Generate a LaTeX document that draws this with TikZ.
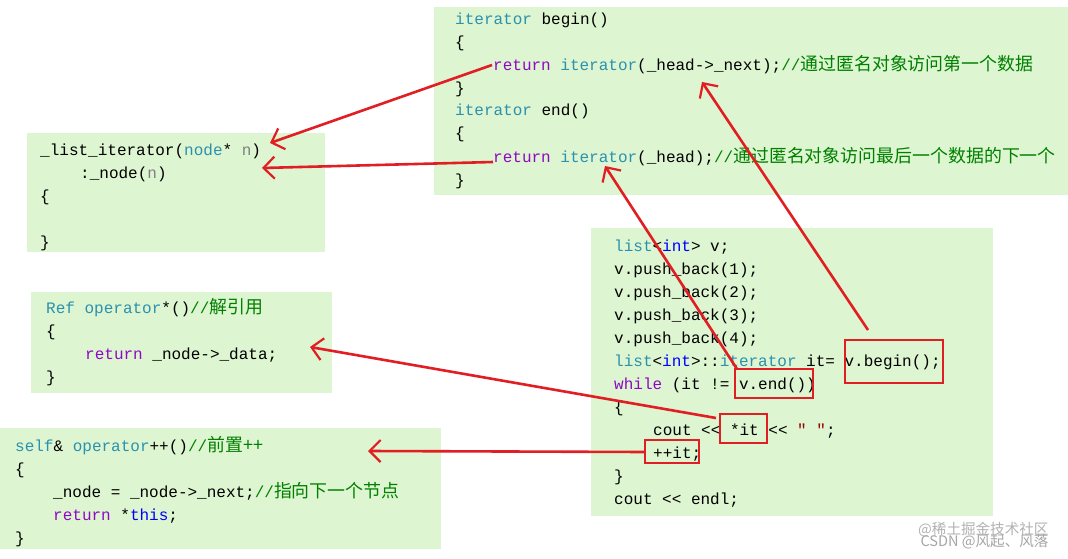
\documentclass[tikz,border=0pt]{standalone}
\usepackage{fontspec}
\setmonofont{Liberation Mono}
\newfontfamily\cjk{Noto Sans CJK SC}[Scale=1.12]
\usetikzlibrary{arrows.meta}
\definecolor{bg}{RGB}{221,245,208}
\definecolor{ty}{RGB}{43,145,175}
\definecolor{kw}{RGB}{0,0,255}
\definecolor{pu}{RGB}{143,8,196}
\definecolor{cm}{RGB}{0,128,0}
\definecolor{pa}{RGB}{128,128,128}
\definecolor{rd}{RGB}{225,30,35}
\newcommand\Ty[1]{\textcolor{ty}{#1}}
\newcommand\Kw[1]{\textcolor{kw}{#1}}
\newcommand\Pu[1]{\textcolor{pu}{#1}}
\newcommand\Pa[1]{\textcolor{pa}{#1}}
\newcommand\Cm[1]{\textcolor{cm}{//{\cjk #1}}}
\begin{document}
\begin{tikzpicture}[x=1pt,y=-1pt,
  box/.style={fill=bg,draw=none},
  code/.style={anchor=base west,inner sep=0pt,font=\ttfamily\fontsize{16}{16}\selectfont},
  rbox/.style={draw=rd,line width=2.6pt},
  arr/.style={draw=rd,line width=2.6pt,-{Straight Barb[length=11pt,width=22pt,line width=2.2pt]}}]
\useasboundingbox (0,0) rectangle (1068,559);
\fill[white] (0,0) rectangle (1068,559);
% boxes
\fill[box] (434,7) rectangle (1068,195);
\fill[box] (27,133) rectangle (325,252);
\fill[box] (31,292) rectangle (332,393);
\fill[box] (0,428) rectangle (441,549);
\fill[box] (591,228) rectangle (993,516);
% top box
\node[code] (t1) at (455,25) {\Ty{iterator} begin()};
\node[code] (t2) at (455,48) {\{};
\node[code] (t3) at (493,71) {\Pu{return} \Ty{iterator}(\_head->\_next);\Cm{通过匿名对象访问第一个数据}};
\node[code] (t4) at (455,94) {\}};
\node[code] (t5) at (455,116) {\Ty{iterator} end()};
\node[code] (t6) at (455,139) {\{};
\node[code] (t7) at (493,162) {\Pu{return} \Ty{iterator}(\_head);\Cm{通过匿名对象访问最后一个数据的下一个}};
\node[code] (t8) at (455,185) {\}};
% box 2
\node[code] (a1) at (40,155) {\_list\_iterator(\Ty{node}* \Pa{n})};
\node[code] (a2) at (80,178) {:\_node(\Pa{n})};
\node[code] (a3) at (40,201) {\{};
\node[code] (a4) at (40,247) {\}};
% box 3
\node[code] (b1) at (46,313) {\Ty{Ref} \Ty{operator}*()\Cm{解引用}};
\node[code] (b2) at (46,336) {\{};
\node[code] (b3) at (85,359) {\Pu{return} \_node->\_data;};
\node[code] (b4) at (46,382) {\}};
% box 4
\node[code] (c1) at (15,451) {\Ty{self}\& \Ty{operator}++()\Cm{前置++}};
\node[code] (c2) at (15,474) {\{};
\node[code] (c3) at (53,497) {\_node = \_node->\_next;\Cm{指向下一个节点}};
\node[code] (c4) at (53,520) {\Pu{return} *\Kw{this};};
\node[code] (c5) at (15,543) {\}};
% box 5
\node[code] (d1) at (614,251) {\Ty{list}<\Kw{int}> v;};
\node[code] (d2) at (614,274) {v.push\_back(1);};
\node[code] (d3) at (614,297) {v.push\_back(2);};
\node[code] (d4) at (614,320) {v.push\_back(3);};
\node[code] (d5) at (614,343) {v.push\_back(4);};
\node[code] (d6) at (614,366) {\Ty{list}<\Kw{int}>::\Ty{iterator} it= v.begin();};
\node[code] (d7) at (614,389) {\Pu{while} (it != v.end())};
\node[code] (d8) at (614,412) {\{};
\node[code] (d9) at (653,435) {cout << *it << \textcolor{red!60!black}{" "};};
\node[code] (d10) at (653,458) {++it;};
\node[code] (d11) at (614,481) {\}};
\node[code] (d12) at (614,504) {cout << endl;};
% red boxes
\draw[rbox] (845,340) rectangle (943,383);
\draw[rbox] (735,369) rectangle (813,398);
\draw[rbox] (720,414) rectangle (767,443);
\draw[rbox] (645,440) rectangle (699,463);
\coordinate (bg) at (868,330);
\coordinate (en) at (737,369);
\coordinate (st) at (716,418);
\coordinate (pp) at (645,452);
\coordinate (h1) at (492,65);
\coordinate (h2) at (493,162);
\coordinate (r1) at (270,143);
\coordinate (r2) at (262,168);
\coordinate (r3) at (702,82);
\coordinate (r4) at (605,166);
\coordinate (r5) at (310,347);
\coordinate (r6) at (368,451);
\draw[arr] (h1) -- (r1);
\draw[arr] (h2) -- (r2);
\draw[arr] (bg) -- (r3);
\draw[arr] (en) -- (r4);
\draw[arr] (st) -- (r5);
\draw[arr] (pp) -- (r6);
% watermark
\node[anchor=east,text=black!30,font=\cjk\fontsize{13}{13}\selectfont] (w1) at (1052,530) {@稀土掘金技术社区};
\node[anchor=east,text=black!35,font=\cjk\fontsize{13}{13}\selectfont] (w2) at (1052,542) {CSDN @风起、风落};
\end{tikzpicture}
\end{document}
